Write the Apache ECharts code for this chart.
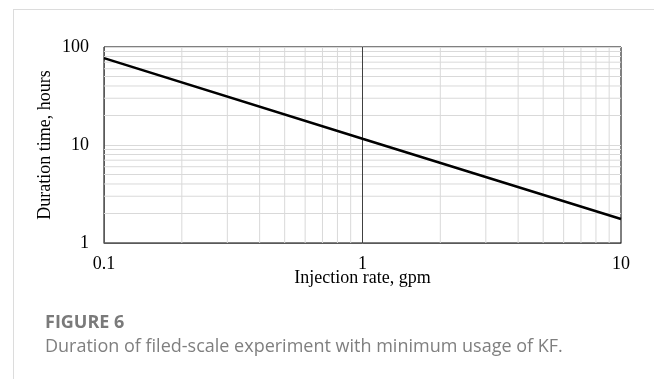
<!DOCTYPE html>
<html>
<head>
<meta charset="utf-8">
<script src="https://cdn.jsdelivr.net/npm/echarts@6/dist/echarts.min.js"></script>
<style>
  html, body { margin: 0; padding: 0; background: #fff; }
  #chart { width: 654px; height: 379px; }
</style>
</head>
<body>
<div id="chart"></div>
<script>
// injection rate (gpm) vs duration time (hours)
const rates = [0.1, 1, 10];
const hours = [77, 11.6, 1.76];
// log paper: axis ranges and minor grid lines
const xRange = [0.1, 10];
const yRange = [1, 100];
const xMinor = [0.2, 0.3, 0.4, 0.5, 0.6, 0.7, 0.8, 0.9, 2, 3, 4, 5, 6, 7, 8, 9];
const yMinor = [2, 3, 4, 5, 6, 7, 8, 9, 20, 30, 40, 50, 60, 70, 80, 90];

const serif = "'Liberation Serif', 'Times New Roman', serif";
const sans = "'Open Sans', 'Noto Sans', sans-serif";

const chart = echarts.init(document.getElementById("chart"));

// one small line series per grid line so the log scale places them
function gridSeries(points, color) {
  return {
    type: "line",
    data: points,
    silent: true,
    showSymbol: false,
    lineStyle: { color: color, width: 1 },
    z: 1
  };
}
const series = [];
xMinor.forEach(v => series.push(gridSeries([[v, yRange[0]], [v, yRange[1]]], "#d9d9d9")));
yMinor.forEach(v => series.push(gridSeries([[xRange[0], v], [xRange[1], v]], "#d9d9d9")));
// the vertical axis line that crosses at 1
series.push(gridSeries([[1, yRange[0]], [1, yRange[1]]], "#404040"));
series.push({
  name: "duration",
  type: "line",
  data: rates.map((r, i) => [r, hours[i]]),
  showSymbol: false,
  lineStyle: { color: "#000", width: 2.5 },
  z: 5
});

const option = {
  animation: false,
  title: {
    text: "FIGURE 6",
    subtext: "Duration of filed-scale experiment with minimum usage of KF.",
    left: 40,
    top: 309,
    itemGap: 6,
    textStyle: { fontFamily: sans, fontSize: 18, fontWeight: "bold", color: "#7a7a7a" },
    subtextStyle: { fontFamily: sans, fontSize: 18, color: "#7f7f7f" }
  },
  graphic: [
    { type: "line", shape: { x1: 13, y1: 9.5, x2: 654, y2: 9.5 }, style: { stroke: "#dcdcdc", lineWidth: 1 } },
    { type: "line", shape: { x1: 13.5, y1: 9, x2: 13.5, y2: 379 }, style: { stroke: "#dcdcdc", lineWidth: 1 } }
  ],
  grid: {
    left: 104,
    right: 33,
    top: 47,
    height: 196,
    show: true,
    borderColor: "#000",
    borderWidth: 1
  },
  xAxis: {
    type: "log",
    logBase: 10,
    min: xRange[0],
    max: xRange[1],
    name: "Injection rate, gpm",
    nameLocation: "middle",
    nameMoveOverlap: false,
    nameGap: 26,
    nameTextStyle: { fontFamily: serif, fontSize: 18, color: "#000" },
    axisLine: { show: true, lineStyle: { color: "#595959", width: 1 } },
    axisTick: { show: false },
    splitLine: { show: false },
    axisLabel: {
      fontFamily: serif, fontSize: 18, color: "#000", margin: 12,
      formatter: v => String(v)
    }
  },
  yAxis: {
    type: "log",
    logBase: 10,
    min: yRange[0],
    max: yRange[1],
    name: "Duration time, hours",
    nameLocation: "middle",
    nameMoveOverlap: false,
    nameGap: 50,
    nameTextStyle: { fontFamily: serif, fontSize: 18, color: "#000" },
    axisLine: { show: true, lineStyle: { color: "#595959", width: 1 } },
    axisTick: { show: false },
    splitLine: { show: true, lineStyle: { color: "#d9d9d9", width: 1 } },
    axisLabel: {
      fontFamily: serif, fontSize: 18, color: "#000", margin: 15,
      formatter: v => String(v)
    }
  },
  series: series
};

chart.setOption(option);
</script>
</body>
</html>
